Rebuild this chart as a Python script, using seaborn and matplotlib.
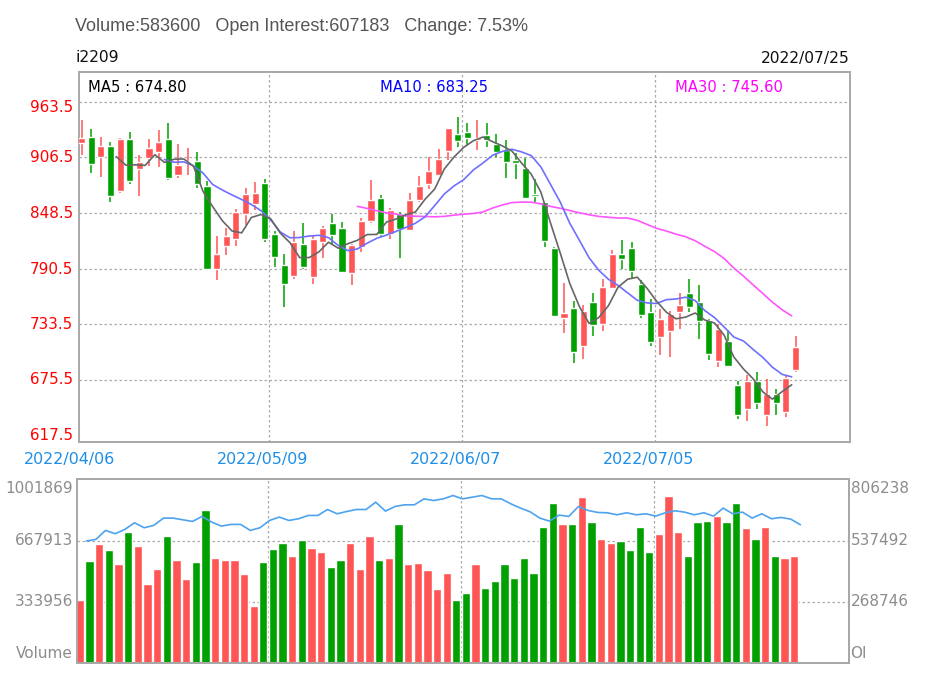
import numpy as np
import pandas as pd
import seaborn as sns
import matplotlib.pyplot as plt
from matplotlib.transforms import offset_copy, blended_transform_factory

sns.set_theme(style="white")
plt.rcParams['font.family'] = ['DejaVu Sans']

# Datos diarios i2209 (2022/04/06 - 2022/07/25)
open_ = [920.7, 927.6, 906.1, 918.2, 871.6, 925.0, 894.0, 905.1, 911.3, 924.8,
         887.8, 900.9, 902.7, 876.7, 791.0, 814.5, 822.1, 847.3, 858.4, 879.2,
         826.3, 795.1, 783.4, 816.9, 782.3, 818.6, 838.7, 832.5, 786.8, 813.5,
         840.1, 863.6, 827.3, 848.0, 830.8, 861.8, 878.1, 887.8, 912.7, 930.0,
         932.1, 924.1, 929.3, 919.6, 913.7, 903.4, 894.7, 868.4, 859.5, 812.4,
         739.8, 750.2, 710.8, 756.4, 733.9, 770.9, 806.5, 812.4, 775.4, 746.0,
         720.1, 726.0, 746.0, 766.1, 756.4, 737.4, 694.9, 715.6, 670.6, 645.7,
         674.1, 638.8, 661.3, 642.3, 685.5]
high = [944.9, 935.2, 927.6, 922.4, 926.5, 932.8, 908.6, 924.8, 934.5, 941.4,
        919.6, 915.5, 911.3, 881.9, 824.9, 832.5, 853.2, 874.7, 880.9, 884.3,
        829.7, 806.5, 829.7, 837.7, 824.9, 835.2, 848.0, 839.4, 816.9, 843.5,
        882.6, 867.1, 853.9, 849.1, 869.8, 887.1, 906.8, 914.8, 936.9, 948.3,
        941.4, 944.9, 941.4, 930.0, 924.1, 910.3, 905.1, 884.3, 860.2, 813.5,
        776.5, 757.1, 753.0, 766.1, 780.6, 810.0, 820.4, 818.0, 778.9, 759.9,
        749.5, 746.7, 766.1, 779.9, 773.7, 738.4, 733.9, 727.0, 674.1, 680.3,
        683.8, 676.9, 665.8, 679.6, 721.1]
low = [908.6, 889.5, 886.1, 859.5, 868.8, 878.1, 866.4, 897.5, 896.5, 882.6,
       885.0, 887.8, 874.0, 789.5, 778.9, 804.8, 814.5, 835.9, 851.5, 818.6,
       792.7, 751.2, 780.6, 790.3, 775.4, 802.0, 815.9, 786.8, 773.7, 808.3,
       838.7, 823.8, 822.1, 802.0, 829.7, 860.2, 873.3, 887.1, 903.4, 917.2,
       918.9, 913.7, 917.2, 906.8, 885.0, 884.3, 863.6, 860.2, 813.5, 740.5,
       724.6, 693.5, 697.6, 721.1, 726.0, 769.5, 790.3, 781.3, 739.8, 710.8,
       701.1, 699.4, 728.7, 746.0, 718.4, 695.9, 689.0, 689.0, 635.4, 632.6,
       645.7, 627.8, 639.5, 637.1, 683.8]
close = [926.5, 898.9, 918.2, 866.4, 925.2, 881.6, 900.9, 915.5, 921.7, 885.0,
         898.2, 902.5, 878.1, 790.3, 806.5, 824.9, 849.8, 868.4, 869.8, 822.1,
         803.1, 775.4, 818.6, 792.7, 822.1, 832.5, 825.6, 787.5, 815.9, 840.1,
         861.9, 826.3, 851.5, 831.8, 861.9, 876.7, 892.0, 904.4, 936.2, 923.4,
         926.5, 926.5, 924.1, 912.0, 901.6, 899.9, 864.3, 866.4, 819.3, 741.9,
         745.3, 704.5, 746.7, 732.2, 772.0, 806.5, 800.7, 788.2, 742.6, 714.9,
         739.1, 744.3, 753.6, 751.2, 736.3, 702.8, 728.7, 690.0, 638.8, 674.1,
         652.0, 661.3, 652.0, 677.6, 709.7]
volume = [343700, 557200, 647600, 615100, 539100, 712800, 636800, 434200, 515600, 694700,
          564400, 459500, 550000, 832200, 573500, 564400, 564400, 484800, 313000, 550000,
          622300, 654900, 582500, 669400, 629600, 606000, 524600, 564400, 654900, 515600,
          694700, 564400, 573500, 759800, 539100, 548100, 508400, 403400, 490300, 343700,
          383500, 539100, 408900, 448700, 539100, 466700, 571700, 490300, 741700, 873800,
          759800, 759800, 906400, 767000, 678400, 654900, 663900, 615100, 741700, 604200,
          703700, 913600, 712800, 586100, 767000, 776100, 799600, 767000, 873800, 734500,
          678400, 741700, 586100, 571700, 583600]
open_interest = [535700, 543000, 582300, 567800, 586700, 615800, 594000, 604200, 636200, 636200,
                 628900, 621600, 643500, 618700, 601200, 608500, 608500, 582300, 594000, 626000,
                 640600, 626000, 633300, 647800, 647800, 674000, 655100, 665300, 674000, 674000,
                 706100, 666800, 687100, 694400, 694400, 720600, 713300, 720600, 735200, 720600,
                 727900, 735200, 720600, 720600, 698800, 679900, 663800, 636200, 623100, 649300,
                 643500, 687100, 669700, 660900, 659500, 650700, 659500, 650700, 655100, 644900,
                 659500, 668200, 662400, 650700, 659500, 644900, 679900, 655100, 662400, 636200,
                 655100, 633300, 639100, 631800, 607183]

date_labels = ["2022/04/06", "2022/05/09", "2022/06/07", "2022/07/05"]
date_idx = [0, 20, 40, 60]
price_ticks = [617.5, 675.5, 733.5, 790.5, 848.5, 906.5, 963.5]
vol_ticks = [0, 333956, 667913, 1001869]
vol_labels = ["Volume", "333956", "667913", "1001869"]
oi_ticks = [0, 268746, 537492, 806238]
oi_labels = ["OI", "268746", "537492", "806238"]

df = pd.DataFrame({"open": open_, "high": high, "low": low, "close": close,
                   "volume": volume, "oi": open_interest})
df["idx"] = np.arange(len(df))
df["ma5"] = df["close"].rolling(5).mean()
df["ma10"] = df["close"].rolling(10).mean()
df["ma30"] = df["close"].rolling(30).mean()
up = df["close"] >= df["open"]
RED, GREEN = "#ff5555", "#00a000"
cols = np.where(up, RED, GREEN)

fig = plt.figure(figsize=(9.28, 6.82), dpi=100)
ax = fig.add_axes([79/928, 1-442/682, 771/928, 370/682])
axv = fig.add_axes([77/928, 1-663.3/682, 772/928, 184/682])
axoi = axv.twinx()

frame = "#a8a8a8"
grid = dict(color="#aaaaaa", lw=0.9, ls=(0, (2, 2)), zorder=0)

# velas
ax.vlines(df["idx"], df["low"], df["high"], colors=cols, lw=1.1, zorder=2)
body = np.maximum((df["close"] - df["open"]).abs(), 0.9)
ax.bar(df["idx"], body, bottom=np.minimum(df["open"], df["close"]),
       width=0.74, color=cols, zorder=3)

# medias moviles
for col, c in [("ma30", "#ff55ff"), ("ma10", "#6f6fff"), ("ma5", "#666666")]:
    sns.lineplot(x=df["idx"] - 0.4, y=df[col], ax=ax, color=c, lw=1.2, zorder=4)

for p in price_ticks[1:]:
    ax.axhline(p, **grid)
for i in date_idx[1:]:
    ax.axvline(i - 0.55, **grid)
ax.set_xticks([])
ax.set_yticks([])
ax.set_xlabel("")
ax.set_ylabel("")
ax.set_xlim(-0.26, 79.64)
ax.set_ylim(611.2, 994.7)

# etiquetas de precio (la de arriba queda un poco mas abajo)
ytr = ax.get_yaxis_transform()
for p in price_ticks:
    tr = offset_copy(ytr, fig=fig, x=0, y=-5.4 if p == price_ticks[-1] else 0, units="dots")
    ax.text(-0.008, p, f"{p:.1f}", transform=tr, ha="right", va="center",
            color="#ff0000", fontsize=10.9)
xtr = blended_transform_factory(ax.transData, fig.transFigure)
for i, lab in zip(date_idx, date_labels):
    ax.text(i - 1.25, 1 - 459.5/682, lab, transform=xtr, ha="center", va="center",
            color="#1e8ee6", fontsize=11.4)

# volumen e interes abierto
axv.bar(df["idx"], df["volume"], width=0.86, color=cols, zorder=2)
sns.lineplot(x=df["idx"] + 0.65, y=df["oi"], ax=axoi, color="#4da3ee", lw=1.2)
axv.set_ylim(0, 1001869)
axoi.set_ylim(0, 806238)
for v in vol_ticks[1:3]:
    axv.axhline(v, **grid)
for i in date_idx[1:]:
    axv.axvline(i - 0.5, **grid)
for a in (axv, axoi):
    a.set_xticks([])
    a.set_yticks([])
    a.set_xlabel("")
    a.set_ylabel("")
    a.set_xlim(-0.31, 79.69)

gray = "#8c8c8c"
shift = [10, 0, 0, -9]  # desplazamiento vertical en px de las etiquetas extremas
for a, ticks, labels, x, ha in [(axv, vol_ticks, vol_labels, -0.005, "right"),
                                (axoi, oi_ticks, oi_labels, 1.002, "left")]:
    base = a.get_yaxis_transform()
    for v, lab, dy in zip(ticks, labels, shift):
        tr = offset_copy(base, fig=fig, x=0, y=dy, units="dots")
        a.text(x, v, lab, transform=tr, ha=ha, va="center", color=gray, fontsize=11)

for a in (ax, axv, axoi):
    for s in a.spines.values():
        s.set_color(frame)
        s.set_linewidth(1.4)

# textos de cabecera
fig.text(75/928, 1-31/682, "Volume:583600   Open Interest:607183   Change: 7.53%",
         color="#555555", fontsize=13, va="baseline", family="Liberation Sans")
fig.text(76/928, 1-58/682, "i2209", color="#111111", fontsize=11.2, va="center")
fig.text(850/928, 1-58/682, "2022/07/25", color="#111111", fontsize=11.2,
         va="center", ha="right")
fig.text(88/928, 1-88/682, "MA5 : 674.80", color="black", fontsize=10.6, va="center")
fig.text(380/928, 1-88/682, "MA10 : 683.25", color="#0000ff", fontsize=10.6, va="center")
fig.text(675/928, 1-88/682, "MA30 : 745.60", color="#ff00ff", fontsize=10.6, va="center")

fig.savefig("out.png", dpi=100)
